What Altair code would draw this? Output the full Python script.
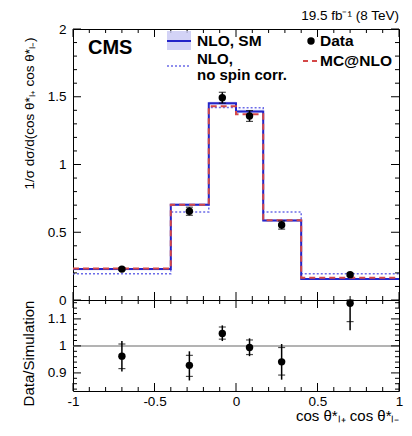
import altair as alt
import pandas as pd

# ---------------- data ----------------
edges = [-1.0, -0.4, -0.167, 0.0, 0.167, 0.4, 1.0]
nlo_sm = [0.228, 0.703, 1.452, 1.392, 0.587, 0.155]
nlo_sm_unc = [0.008, 0.010, 0.012, 0.012, 0.010, 0.008]
mcatnlo = [0.232, 0.703, 1.430, 1.370, 0.588, 0.165]
nlo_nospin = [0.194, 0.650, 1.420, 1.418, 0.650, 0.194]

data_x = [-0.70, -0.286, -0.084, 0.083, 0.28, 0.70]
data_y = [0.228, 0.655, 1.493, 1.358, 0.553, 0.187]
data_err = [0.010, 0.030, 0.040, 0.040, 0.030, 0.010]

ratio_val = [0.962, 0.928, 1.046, 0.994, 0.941, 1.158]
ratio_tot_lo = [0.905, 0.872, 1.018, 0.962, 0.875, 1.058]
ratio_tot_hi = [1.018, 0.980, 1.076, 1.028, 1.007, 1.260]
ratio_stat_lo = [0.916, 0.887, 1.025, 0.968, 0.892, 1.090]
ratio_stat_hi = [1.007, 0.965, 1.070, 1.022, 0.994, 1.226]

x_major = [-1.0, -0.5, 0.0, 0.5, 1.0]
top_y_major = [0.0, 0.5, 1.0, 1.5, 2.0]
ratio_y_labels = [0.9, 1.0, 1.1]

FONT = "Liberation Sans"
W, H1, H2 = 326, 271, 91
BLUE = "#2424c8"
RED = "#d44848"
LBLUE = "#6b6be8"

xs = alt.Scale(domain=[-1, 1], nice=False, zero=False)
ys_top = alt.Scale(domain=[0, 2], nice=False, zero=False)
ys_rat = alt.Scale(domain=[0.833, 1.17], nice=False, zero=False, clamp=True)

x_minor = [round(-1 + 0.1 * i, 2) for i in range(21) if i % 5 != 0]
top_y_minor = [round(0.1 * i, 2) for i in range(21) if i % 5 != 0]
rat_y_major = [0.9, 1.0, 1.1]
rat_y_minor = [round(0.84 + 0.02 * i, 2) for i in range(17) if round(0.84 + 0.02 * i, 2) not in (0.9, 1.0, 1.1)]


def tick_layers(ymaj, ymin, yscale, H):
    layers = []
    for vals, ln in ((x_major, 8), (x_minor, 4)):
        d = pd.DataFrame({"v": vals})
        layers.append(alt.Chart(d).mark_rule(color="black", strokeWidth=1).encode(
            x=alt.X("v:Q", scale=xs), y=alt.value(H), y2=alt.value(H - ln)))
        layers.append(alt.Chart(d).mark_rule(color="black", strokeWidth=1).encode(
            x=alt.X("v:Q", scale=xs), y=alt.value(0), y2=alt.value(ln)))
    for vals, ln in ((ymaj, 8), (ymin, 4)):
        d = pd.DataFrame({"v": vals})
        layers.append(alt.Chart(d).mark_rule(color="black", strokeWidth=1).encode(
            y=alt.Y("v:Q", scale=yscale), x=alt.value(0), x2=alt.value(ln)))
        layers.append(alt.Chart(d).mark_rule(color="black", strokeWidth=1).encode(
            y=alt.Y("v:Q", scale=yscale), x=alt.value(W), x2=alt.value(W - ln)))
    return layers


def step_df(vals):
    return pd.DataFrame({"x": edges, "y": vals + [vals[-1]]})


# ---------------- top panel ----------------
band_df = pd.DataFrame({
    "x": edges,
    "lo": [v - u for v, u in zip(nlo_sm, nlo_sm_unc)] + [nlo_sm[-1] - nlo_sm_unc[-1]],
    "hi": [v + u for v, u in zip(nlo_sm, nlo_sm_unc)] + [nlo_sm[-1] + nlo_sm_unc[-1]],
})
band = alt.Chart(band_df).mark_area(interpolate="step-after", color="#b8b8f0", opacity=0.6).encode(
    x=alt.X("x:Q", scale=xs, axis=None),
    y=alt.Y("lo:Q", scale=ys_top),
    y2="hi:Q",
)

y_top_axis = alt.Axis(values=top_y_major, labelExpr="'' + datum.value", labelPadding=7,
                      title="1/σ dσ/d(cos θ*ₗ₊ cos θ*ₗ₋)", titleX=-40, titleY=84,
                      titleBaseline="alphabetic", titleFontSize=13.5)

nospin_line = alt.Chart(step_df(nlo_nospin)).mark_line(
    interpolate="step-after", color=LBLUE, strokeWidth=1.5, strokeDash=[2, 2]).encode(
    x=alt.X("x:Q", scale=xs, axis=None),
    y=alt.Y("y:Q", scale=ys_top, axis=y_top_axis),
)
sm_line = alt.Chart(step_df(nlo_sm)).mark_line(
    interpolate="step-after", color=BLUE, strokeWidth=2).encode(
    x=alt.X("x:Q", scale=xs), y=alt.Y("y:Q", scale=ys_top))
mc_line = alt.Chart(step_df(mcatnlo)).mark_line(
    interpolate="step-after", color=RED, strokeWidth=2, strokeDash=[6, 4]).encode(
    x=alt.X("x:Q", scale=xs), y=alt.Y("y:Q", scale=ys_top))

pts_df = pd.DataFrame({"x": data_x, "y": data_y,
                       "lo": [a - b for a, b in zip(data_y, data_err)],
                       "hi": [a + b for a, b in zip(data_y, data_err)]})
err_top = alt.Chart(pts_df).mark_rule(color="black", strokeWidth=1.5).encode(
    x=alt.X("x:Q", scale=xs), y=alt.Y("lo:Q", scale=ys_top), y2="hi:Q")
cap_lo = alt.Chart(pts_df).mark_tick(orient="horizontal", color="black", size=7, thickness=1.2).encode(
    x=alt.X("x:Q", scale=xs), y=alt.Y("lo:Q", scale=ys_top))
cap_hi = alt.Chart(pts_df).mark_tick(orient="horizontal", color="black", size=7, thickness=1.2).encode(
    x=alt.X("x:Q", scale=xs), y=alt.Y("hi:Q", scale=ys_top))
pts_top = alt.Chart(pts_df).mark_circle(color="black", size=55, opacity=1).encode(
    x=alt.X("x:Q", scale=xs), y=alt.Y("y:Q", scale=ys_top))

one = pd.DataFrame({"a": [0]})


def txt(s, x, y, size, bold=True, align="left"):
    return alt.Chart(one).mark_text(text=s, font=FONT, fontSize=size,
                                    fontWeight="bold" if bold else "normal",
                                    align=align, baseline="middle", color="black").encode(
        x=alt.value(x), y=alt.value(y))


legend = [
    txt("CMS", 15, 19, 20),
    alt.Chart(one).mark_rect(color="#c8c8f4", opacity=0.8).encode(
        x=alt.value(94), x2=alt.value(118), y=alt.value(2), y2=alt.value(21)),
    alt.Chart(one).mark_rule(color=BLUE, strokeWidth=2).encode(
        x=alt.value(94), x2=alt.value(118), y=alt.value(12)),
    txt("NLO, SM", 124, 12, 15.5),
    alt.Chart(one).mark_rule(color=LBLUE, strokeWidth=1.5, strokeDash=[2, 2]).encode(
        x=alt.value(94), x2=alt.value(118), y=alt.value(37)),
    txt("NLO,", 124, 30, 15),
    txt("no spin corr.", 124, 46, 15),
    alt.Chart(one).mark_circle(color="black", size=55, opacity=1).encode(
        x=alt.value(238), y=alt.value(12)),
    txt("Data", 247, 12, 15.5),
    alt.Chart(one).mark_rule(color=RED, strokeWidth=2, strokeDash=[5, 4]).encode(
        x=alt.value(230), x2=alt.value(244), y=alt.value(32)),
    txt("MC@NLO", 247, 32, 15.5),
    txt("19.5 fb⁻¹ (8 TeV)", W, -13, 13.5, bold=False, align="right"),
]

top = alt.layer(
    band, nospin_line, sm_line, mc_line, err_top, cap_lo, cap_hi, pts_top,
    *tick_layers(top_y_major, top_y_minor, ys_top, H1), *legend
).properties(width=W, height=H1)

# ---------------- ratio panel ----------------
rat_df = pd.DataFrame({"x": data_x, "y": ratio_val, "tlo": ratio_tot_lo, "thi": ratio_tot_hi,
                       "slo": ratio_stat_lo, "shi": ratio_stat_hi})
one_line = alt.Chart(pd.DataFrame({"v": [1.0]})).mark_rule(color="#9a9a9a", strokeWidth=1.5).encode(
    y=alt.Y("v:Q", scale=ys_rat,
            axis=alt.Axis(values=ratio_y_labels, labelExpr="'' + datum.value", labelPadding=7,
                          title="Data/Simulation", titleX=-40, titleY=53,
                          titleBaseline="alphabetic", titleFontSize=15)),
    x=alt.value(0), x2=alt.value(W))
rat_err = alt.Chart(rat_df).mark_rule(color="black", strokeWidth=1.5).encode(
    x=alt.X("x:Q", scale=xs,
            axis=alt.Axis(values=x_major, labelExpr="'' + datum.value", labelPadding=3,
                          labelFlush=False, title="cos θ*ₗ₊ cos θ*ₗ₋", titleAnchor="end",
                          titleFontSize=15, titlePadding=1)),
    y=alt.Y("tlo:Q", scale=ys_rat), y2="thi:Q")
rat_cap_lo = alt.Chart(rat_df).mark_tick(orient="horizontal", color="black", size=7, thickness=1.2).encode(
    x=alt.X("x:Q", scale=xs), y=alt.Y("slo:Q", scale=ys_rat))
rat_cap_hi = alt.Chart(rat_df).mark_tick(orient="horizontal", color="black", size=7, thickness=1.2).encode(
    x=alt.X("x:Q", scale=xs), y=alt.Y("shi:Q", scale=ys_rat))
rat_pts = alt.Chart(rat_df).mark_circle(color="black", size=55, opacity=1).encode(
    x=alt.X("x:Q", scale=xs), y=alt.Y("y:Q", scale=ys_rat))

bottom = alt.layer(
    one_line, rat_err, rat_cap_lo, rat_cap_hi, rat_pts,
    *tick_layers(rat_y_major, rat_y_minor, ys_rat, H2)
).properties(width=W, height=H2)

chart = alt.vconcat(top, bottom, spacing=0).properties(
    bounds="flush", background="white",
    padding={"left": 12, "top": 0, "right": 0, "bottom": 0}
).configure_view(stroke="black", strokeWidth=1).configure_axis(
    labelFont=FONT, labelFontSize=13.5, labelColor="black",
    titleFont=FONT, titleFontWeight="normal", titleColor="black",
    ticks=False, domain=False, grid=False, labelOverlap=False
)

chart.save("out.html", embed_options={"renderer": "svg", "actions": False})
